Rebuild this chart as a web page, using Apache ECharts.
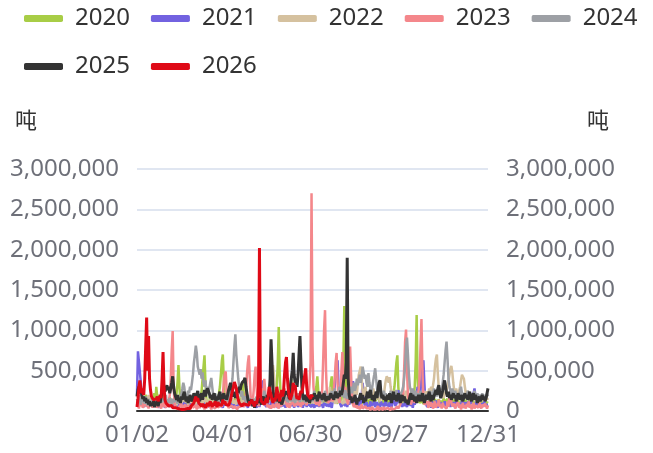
<!DOCTYPE html>
<html><head><meta charset="utf-8">
<script src="https://cdn.jsdelivr.net/npm/echarts@6/dist/echarts.min.js"></script>
<style>html,body{margin:0;padding:0;background:#fff}#c{width:653px;height:453px}</style>
</head><body><div id="c"></div>
<script>
// values in units of 10,000 tonnes (万吨), one per day starting 01/02
const seriesNames = ['2020','2021','2022','2023','2024','2025','2026'];
const tickLabels = ['01/02','04/01','06/30','09/27','12/31'];
const monthDays = [31,29,31,30,31,30,31,31,30,31,30,31];
const UNIT = 10000;

const v2020 = [
8,12,6,15,10,18,9,5,12,20,14,8,10,6,16,11,7,13,22,9,
30,18,10,7,12,9,15,20,11,6,10,14,8,12,17,9,13,10,7,12,
15,22,35,57,30,12,8,14,10,6,12,16,9,11,18,8,13,7,10,15,
12,9,14,20,11,8,16,25,40,55,69,35,14,10,7,12,18,9,13,10,
8,14,11,17,9,22,30,45,62,70,38,15,10,13,8,12,9,16,11,7,
12,10,15,9,13,18,8,11,14,20,35,16,9,12,7,10,14,8,13,11,
9,15,12,8,17,10,13,7,11,16,9,14,22,12,8,10,15,11,18,13,
9,14,20,12,18,30,60,104,45,18,12,8,15,10,13,9,16,12,20,14,
40,18,11,9,14,12,8,15,10,13,17,9,12,16,10,8,14,11,9,13,
12,8,15,10,18,22,30,43,25,14,10,12,9,16,11,8,13,10,15,12,
20,35,43,28,15,10,13,9,12,16,11,8,14,25,60,130,50,20,12,9,
14,10,8,13,17,11,9,15,12,8,14,10,16,12,9,13,11,18,10,14,
12,9,15,11,8,14,20,12,10,16,30,14,9,12,8,13,11,15,10,17,
12,9,14,18,11,16,22,30,45,60,69,30,12,9,15,11,8,13,10,16,
12,9,14,11,18,13,10,16,30,60,119,40,14,10,8,13,11,9,15,12,
10,14,8,12,16,9,13,11,7,15,10,12,9,14,11,8,13,10,16,9,
12,10,15,8,13,11,25,9,14,10,12,8,16,11,9,13,10,15,12,8,
11,14,9,12,8,15,10,13,9,11,14,8,12,10,9,13,11,8,12,10,
9,12,8,11,10];

const v2021 = [
20,74,75,72,35,12,8,5,10,6,14,9,4,11,7,15,8,5,12,9,
6,10,4,8,13,5,9,7,12,4,8,11,6,9,5,14,7,10,4,8,
12,6,9,4,10,7,13,5,8,11,6,9,4,12,7,10,5,8,14,6,
9,5,11,7,4,10,8,13,6,9,5,12,7,4,10,8,6,11,5,9,
7,12,4,9,6,10,13,5,8,4,11,7,9,5,12,6,8,10,4,7,
11,5,9,6,13,8,4,10,7,12,5,9,6,14,8,4,11,7,9,5,
10,6,13,8,4,9,12,5,7,20,30,38,15,8,5,11,7,9,4,12,
6,10,5,8,13,7,4,11,9,5,12,6,8,10,4,9,7,13,5,8,
11,6,9,4,12,7,10,5,8,14,6,9,4,11,7,10,5,13,8,6,
9,5,12,7,4,10,8,6,11,5,9,13,7,4,10,8,12,6,9,5,
11,7,4,13,20,30,45,55,63,30,12,8,5,10,7,12,6,9,5,11,
8,12,20,30,37,25,10,6,9,5,12,7,10,18,35,20,8,5,11,7,
9,4,12,6,10,7,13,5,8,11,6,9,4,12,7,10,5,8,14,6,
9,5,11,7,4,10,8,13,6,9,12,26,15,7,10,5,9,6,12,8,
5,10,7,13,6,9,4,11,8,12,20,30,22,15,25,40,55,63,35,12,
8,5,11,7,10,4,12,6,9,5,13,8,4,10,7,11,5,9,6,12,
8,4,10,7,13,5,9,6,11,8,4,12,7,10,5,9,6,13,8,4,
11,7,9,5,12,6,10,8,15,22,28,18,8,5,11,7,9,4,10,6,
12,7,9,5,8];

const v2022 = [
10,15,8,12,18,9,14,6,11,16,8,13,20,10,7,15,12,9,14,11,
8,13,17,10,6,12,15,9,11,18,7,14,10,13,9,16,8,12,15,10,
13,7,11,16,9,14,10,8,12,17,11,9,15,7,13,10,18,12,9,14,
11,8,15,10,13,9,17,12,8,14,11,16,9,13,10,7,15,12,11,9,
14,10,13,8,16,11,9,15,12,10,17,8,13,11,15,9,12,14,10,16,
9,13,11,8,15,12,10,14,9,17,11,13,8,16,10,12,15,9,11,14,
10,8,13,16,11,9,14,12,18,10,13,9,15,11,8,14,12,20,30,40,
50,57,45,30,18,12,9,15,11,14,10,13,8,16,12,9,15,11,14,10,
13,9,16,11,14,10,12,8,15,11,13,9,17,12,10,14,11,16,9,13,
12,15,10,14,9,13,11,16,12,10,15,9,14,12,18,11,13,10,16,12,
30,20,14,11,16,12,9,15,13,10,17,12,14,11,9,16,13,10,15,12,
14,11,18,13,16,22,30,25,20,35,45,50,55,40,22,18,25,30,20,15,
22,18,25,20,15,28,22,18,14,20,25,16,12,18,22,15,20,30,38,43,
40,35,42,30,22,18,25,20,15,12,18,14,20,16,12,22,18,15,20,25,
18,14,20,16,12,18,22,15,20,14,18,12,16,20,14,18,22,16,25,20,
18,24,20,28,22,30,25,32,40,55,65,70,45,28,22,18,25,20,16,22,
20,25,30,38,45,52,56,48,35,25,20,28,22,18,25,30,38,45,47,40,
30,22,18,25,20,15,22,18,14,20,16,12,18,15,20,14,18,12,16,13,
15,12,18,14,16];

const v2023 = [
5,8,3,12,6,10,4,7,15,9,5,11,3,8,6,13,4,9,7,5,
10,4,8,12,6,3,9,5,14,7,4,10,6,12,20,40,75,99,30,8,
5,3,7,2,6,4,9,3,5,2,8,4,6,3,7,2,5,9,4,6,
3,7,2,5,8,4,6,3,9,5,2,7,4,6,3,8,5,2,6,4,
7,3,5,9,4,6,2,8,5,20,35,45,49,25,8,4,6,3,7,5,
3,6,4,8,2,5,7,3,6,4,9,5,8,20,45,60,69,40,15,6,
12,25,45,55,30,12,6,4,8,15,28,20,40,25,10,5,8,4,7,3,
6,9,4,8,5,12,7,3,10,6,4,9,15,28,20,8,5,10,4,7,
9,5,12,6,8,4,10,7,14,9,5,11,8,6,13,10,7,15,20,35,
60,270,80,30,18,12,8,15,10,6,14,20,25,60,100,125,50,20,10,12,
8,14,20,12,25,40,60,72,35,15,10,25,50,73,40,20,30,15,12,8,
40,80,45,15,8,5,10,4,7,3,6,2,5,8,3,4,2,6,3,5,
2,4,1,3,5,2,1,4,2,3,6,1,2,4,3,1,5,2,3,1,
4,2,3,1,5,2,4,1,3,2,6,3,5,8,12,15,20,50,85,101,
50,20,10,15,8,12,20,15,10,8,12,20,25,40,80,114,50,15,8,10,
6,12,4,8,15,5,10,3,7,12,4,9,6,14,5,8,3,10,6,4,
8,3,12,5,20,25,10,6,4,9,3,7,5,11,4,8,2,6,10,4,
7,3,9,5,12,4,8,2,6,10,3,7,5,9,4,11,6,3,8,5,
4,9,6,3,7];

const v2024 = [
15,10,20,12,8,16,11,14,9,18,12,7,15,10,13,8,17,11,14,9,
12,16,8,13,10,18,11,9,15,12,20,8,14,10,16,12,9,15,11,13,
10,14,9,16,12,18,22,28,35,30,20,14,18,25,22,30,26,35,45,60,
70,81,72,55,50,45,52,40,48,35,30,38,25,30,22,28,35,41,30,20,
15,22,18,12,20,16,10,14,18,12,9,15,20,13,17,11,20,25,30,40,
60,80,95,70,55,40,30,22,18,25,14,12,18,10,15,20,12,16,9,14,
11,15,9,13,18,12,20,14,10,16,12,18,25,20,14,10,16,12,18,22,
15,20,12,18,10,14,22,16,12,18,14,10,16,20,13,17,11,15,19,12,
16,12,20,14,10,18,13,22,15,11,17,14,20,12,16,10,18,22,14,12,
20,15,12,18,25,16,12,20,14,18,22,15,12,20,16,25,18,14,20,16,
22,18,25,15,20,28,18,24,16,22,30,20,25,18,22,16,26,20,15,22,
18,25,30,22,28,35,25,30,40,32,38,45,35,42,55,48,40,45,35,30,
47,35,28,22,30,38,45,53,40,28,20,25,18,22,15,20,25,18,22,16,
20,14,18,25,16,22,18,14,20,26,18,22,15,20,20,25,30,40,55,80,
91,70,45,30,25,20,28,22,18,25,20,16,22,18,25,20,15,22,18,14,
20,16,22,18,25,20,15,22,28,20,25,18,22,30,25,20,25,35,45,60,
75,86,65,40,30,25,20,28,22,18,25,20,16,22,18,25,30,22,18,20,
15,22,18,25,20,16,22,18,14,20,25,18,15,22,18,14,20,16,22,18,
15,20,16,22,18];

const v2025 = [
18,26,30,22,28,20,15,18,12,16,10,14,8,12,6,10,7,12,5,9,
8,12,6,14,10,18,22,26,30,24,28,32,26,30,22,28,35,43,30,22,
18,14,20,12,16,10,18,14,20,24,16,12,18,10,14,20,15,12,16,22,
18,14,20,25,16,12,18,22,14,20,26,18,24,28,30,22,16,20,14,18,
22,16,12,18,14,20,24,16,12,18,22,15,19,14,20,26,30,35,28,22,
18,24,16,20,28,22,30,26,32,35,35,38,41,30,22,14,10,12,8,14,
6,10,4,12,8,14,10,16,12,8,14,18,12,16,10,20,14,20,40,89,
60,25,18,14,20,16,12,18,10,14,8,12,16,20,18,24,26,20,15,30,
30,50,72,45,35,40,30,45,70,93,60,30,18,14,20,16,12,18,14,10,
16,20,14,18,22,15,20,12,18,24,16,20,14,18,22,16,12,18,20,14,
18,22,16,20,14,18,24,20,16,22,18,25,20,25,35,45,40,60,190,40,
20,14,18,10,16,12,20,14,8,16,12,18,22,14,20,10,16,12,18,24,
16,22,26,18,14,20,12,18,24,16,28,35,38,22,16,20,14,18,12,16,
20,14,22,16,10,18,24,14,20,12,16,22,18,10,14,20,12,18,16,10,
14,8,12,18,22,14,20,16,12,18,10,14,20,16,12,18,22,14,10,16,
20,14,18,24,16,12,20,14,18,22,26,20,28,32,22,16,20,25,32,38,
30,22,18,24,16,20,14,18,22,16,20,12,16,22,18,14,20,16,12,18,
22,16,20,14,18,24,16,12,18,22,14,20,16,10,14,18,12,16,20,14,
18,12,16,22,28];

const v2026 = [
5,15,30,38,28,22,25,20,40,80,116,50,93,40,26,18,20,14,16,12,
15,18,12,14,20,16,40,73,30,14,10,8,12,6,8,5,7,4,6,3,
4,2,5,3,1,4,2,3,1,2,4,1,3,2,5,3,6,4,8,10,
14,18,12,16,10,8,12,6,9,5,8,4,7,10,6,9,12,8,5,10,
7,12,9,5,11,8,6,10,7,14,9,12,8,6,10,7,10,14,20,25,
30,36,34,28,20,14,10,8,12,6,9,7,11,8,6,10,7,12,9,14,
10,8,6,12,9,15,30,202,20,12,10,14,8,12,16,10,18,30,32,20,
14,10,16,12,18,30,22,16,12,20,26,18,25,45,60,67,40,25,18,14,
18,22,35,28,32,20,15,18,14,20,25,22,30,28,45,53,30,20,22,18,
15,20,17];

const seriesColors = ['#a8cd46','#7262e0','#d5c19f','#f4878b','#9da0a5','#333333','#df0a17'];
const seriesValues = [v2020, v2021, v2022, v2023, v2024, v2025, v2026];

// category labels MM/DD from 01/02 to 12/31
const categories = [];
monthDays.forEach((n, m) => {
  for (let d = 1; d <= n; d++) {
    if (m === 0 && d === 1) continue;
    categories.push(String(m + 1).padStart(2, '0') + '/' + String(d).padStart(2, '0'));
  }
});

const FONT = "'Noto Sans', 'Noto Sans CJK SC', sans-serif";
const fmt = v => Number(v).toLocaleString('en-US');

const chart = echarts.init(document.getElementById('c'), null, {renderer: 'canvas'});
const yAxisBase = {
  type: 'value', min: 0, max: 3000000, interval: 500000,
  name: '吨', nameLocation: 'end', nameGap: 36,
  axisLine: {show: false}, axisTick: {show: false},
  axisLabel: {fontSize: 24, color: '#6E7079', margin: 18, fontFamily: FONT, formatter: fmt}
};
chart.setOption({
  animation: false,
  textStyle: {fontFamily: FONT},
  legend: {
    left: 24, top: 5, right: 0, padding: 0,
    icon: 'roundRect', itemWidth: 39, itemHeight: 7, itemGap: 21,
    textStyle: {fontSize: 24, lineHeight: 27, color: '#333', fontFamily: FONT, padding: [0, 0, 0, 7]},
    data: seriesNames
  },
  grid: {left: 137, right: 165, top: 169, bottom: 42, containLabel: false, outerBoundsMode: 'none'},
  xAxis: {
    type: 'category', boundaryGap: false, data: categories,
    axisLine: {lineStyle: {color: '#333', width: 2}},
    axisTick: {show: false},
    axisLabel: {
      fontSize: 24, color: '#6E7079', margin: 12, fontFamily: FONT,
      interval: (i, v) => tickLabels.indexOf(v) >= 0
    },
    splitLine: {show: false}
  },
  yAxis: [
    Object.assign({}, yAxisBase, {
      position: 'left',
      nameTextStyle: {fontSize: 22, color: '#333', fontFamily: FONT, align: 'right', padding: [0, 100, 0, 0]},
      splitLine: {lineStyle: {color: '#E0E6F1', width: 2}}
    }),
    Object.assign({}, yAxisBase, {
      position: 'right',
      nameTextStyle: {fontSize: 22, color: '#333', fontFamily: FONT, align: 'left', padding: [0, 0, 0, 99]},
      splitLine: {show: false}
    })
  ],
  series: seriesNames.map((name, k) => ({
    name: name, type: 'line', yAxisIndex: 0,
    data: seriesValues[k].map(v => v * UNIT),
    showSymbol: false, symbol: 'none',
    color: seriesColors[k],
    lineStyle: {width: k >= 5 ? 3 : 2.5, color: seriesColors[k]},
    itemStyle: {color: seriesColors[k]},
    emphasis: {disabled: true}
  }))
});
</script></body></html>
